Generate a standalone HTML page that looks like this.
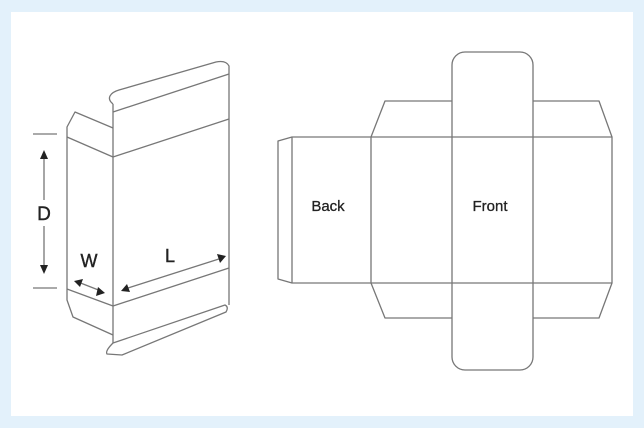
<!DOCTYPE html>
<html><head><meta charset="utf-8"><style>
html,body{margin:0;padding:0;background:#e3f1fb;}
svg{display:block}
</style></head><body>
<svg width="644" height="428" viewBox="0 0 644 428" xmlns="http://www.w3.org/2000/svg">
<rect x="0" y="0" width="644" height="428" fill="#e3f1fb"/>
<rect x="11" y="12" width="622" height="404" fill="#ffffff"/>
<g fill="none" stroke="#777" stroke-width="1.3" stroke-linejoin="round">
<line x1="113" y1="112" x2="113" y2="343"/>
<line x1="229" y1="74" x2="229" y2="305"/>
<line x1="113" y1="112" x2="229" y2="74"/>
<line x1="113" y1="157" x2="229" y2="119"/>
<line x1="113" y1="306" x2="229" y2="268"/>
<path d="M113,104 Q108,100 110,96 Q112,92 119,90 L216,62 Q226,60 229,66 L229,74"/>
<path d="M113,112 L113,104"/>
<path d="M113,128 L75,112 L67,127 L67,300 L73,317 L113,335"/>
<line x1="67" y1="137" x2="113" y2="157"/>
<line x1="67" y1="289" x2="113" y2="306"/>
<path d="M113,343 L225,305 Q229,307 226,312 L122,355 L107,354 Q105,351 113,343"/>
<line x1="33" y1="134" x2="57" y2="134"/>
<line x1="33" y1="288" x2="57" y2="288"/>
<line x1="44" y1="156" x2="44" y2="200"/>
<line x1="44" y1="226" x2="44" y2="268"/>
<line x1="78" y1="282" x2="101" y2="291"/>
<line x1="125" y1="289" x2="222" y2="258"/>
<path d="M292,137 L278,141 L278,279 L292,283"/>
<rect x="292" y="137" width="320" height="146"/>
<line x1="371" y1="137" x2="371" y2="283"/>
<path d="M371,137 L385,101 L452,101"/>
<path d="M533,101 L599,101 L612,137"/>
<path d="M371,283 L385,318 L452,318"/>
<path d="M533,318 L599,318 L612,283"/>
<rect x="452" y="52" width="81" height="318" rx="13" ry="13"/>
</g>
<g fill="#222">
<polygon points="44,150 40,159 48,159"/>
<polygon points="44,274 40,265 48,265"/>
<polygon points="74,281 83,279 80,287"/>
<polygon points="105,293 96,296 98,287"/>
<polygon points="121,291 127,284 130,292"/>
<polygon points="226,256 217,254 220,263"/>
</g>
<g font-family="Liberation Sans, sans-serif" fill="#222">
<text x="44" y="220" font-size="19" text-anchor="middle" stroke="#222" stroke-width="0.4">D</text>
<text x="89" y="267" font-size="18" text-anchor="middle" stroke="#222" stroke-width="0.4">W</text>
<text x="170" y="262" font-size="18" text-anchor="middle" stroke="#222" stroke-width="0.4">L</text>
<text x="328" y="211" font-size="15" text-anchor="middle" stroke="#222" stroke-width="0.3">Back</text>
<text x="490" y="211" font-size="15" text-anchor="middle" stroke="#222" stroke-width="0.3">Front</text>
</g>
</svg>
</body></html>
